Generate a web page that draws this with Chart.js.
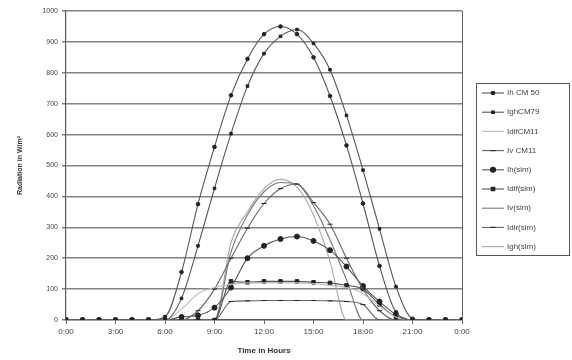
<!DOCTYPE html>
<html lang="en">
    <head>
        <title> Radiation </title>
        <script src="https://cdn.jsdelivr.net/npm/chart.js@4.4.1/dist/chart.umd.min.js"></script>
        <style>
            body { margin: 0; background: #fff; }
        </style>
    </head>

    <body>
        <canvas id="myChart" width="572" height="360"></canvas>

        <script>

            const hours = [0,1,2,3,4,5,6,7,8,9,10,11,12,13,14,15,16,17,18,19,20,21,22,23,24];
            const timeLabels = ['0:00','3:00','6:00','9:00','12:00','15:00','18:00','21:00','0:00'];
            const yTicks = [0,100,200,300,400,500,600,700,800,900,1000];

            const seriesNames = ['Ih CM 50','IghCM79','IdifCM11','Iv CM11','Ih(sim)','Idif(sim)','Iv(sim)','Idir(sim)','Igh(sim)'];

            const ihCM50   = [0,0,0,0,0,0,10,155,375,560,727,845,925,950,925,850,725,565,377,175,25,0,0,0,0];
            const ighCM79  = [0,0,0,0,0,0,0,70,240,426,603,757,862,918,940,895,810,662,485,295,108,5,0,0,0];
            const idifCM11 = [0,0,0,0,0,0,0,35,85,105,115,120,120,120,120,118,112,105,85,45,10,0,0,0,0];
            const ivCM11   = [0,0,0,0,0,0,0,0,30,100,200,297,377,425,440,380,310,200,100,30,0,0,0,0,0];
            const ihSim    = [0,0,0,0,0,0,0,10,15,40,105,200,240,262,270,256,226,173,110,60,18,0,0,0,0];
            const idifSim  = [0,0,0,0,0,0,0,0,0,0,125,122,125,125,125,122,120,112,100,50,10,0,0,0,0];
            const ivSim    = [0,0,0,0,0,0,0,0,0,0,220,340,415,445,440,370,260,130,0,0,0,0,0,0,0];
            const idirSim  = [0,0,0,0,0,0,0,0,0,0,60,62,63,63,63,63,62,60,50,0,0,0,0,0,0];
            const ighSim   = [0,0,0,0,0,0,0,0,0,0,250,350,425,455,430,340,190,0,0,0,0,0,0,0,0];

            const values = [ihCM50, ighCM79, idifCM11, ivCM11, ihSim, idifSim, ivSim, idirSim, ighSim];
            const lineColors = ['#555','#555','#bbb','#666','#555','#555','#777','#666','#aaa'];
            const pointStyles = ['circle','rect','circle','line','circle','rect','circle','line','circle'];
            const pointSizes = [1.8,1.8,0,2.5,2.5,2.5,0,2.5,0];

            const datasets = values.map((vals, i) => ({
                label: seriesNames[i],
                data: hours.map((h, j) => ({ x: h, y: vals[j] })),
                borderColor: lineColors[i],
                backgroundColor: '#222',
                borderWidth: 1.1,
                pointStyle: pointStyles[i],
                pointRadius: pointSizes[i],
                pointBorderColor: '#222',
                pointBorderWidth: 1,
                tension: 0.35,
                cubicInterpolationMode: 'monotone'
            }));

            // legend box on the right, drawn by hand
            const boxLegend = {
                id: 'boxLegend',
                afterDraw (chart) {
                    const ctx = chart.ctx;
                    const area = chart.chartArea;
                    ctx.save();
                    ctx.strokeStyle = '#666';
                    ctx.lineWidth = 1;
                    ctx.beginPath();
                    ctx.moveTo(area.right + 0.5, area.top);
                    ctx.lineTo(area.right + 0.5, area.bottom);
                    ctx.stroke();

                    ctx.strokeStyle = '#555';
                    ctx.strokeRect(476.5, 83.5, 93, 172);
                    ctx.font = '8px "Liberation Sans", Arial, sans-serif';
                    ctx.textBaseline = 'middle';
                    chart.data.datasets.forEach((ds, i) => {
                        const y = 93 + i * 19.2;
                        ctx.strokeStyle = ds.borderColor;
                        ctx.lineWidth = 1.1;
                        ctx.beginPath();
                        ctx.moveTo(482, y);
                        ctx.lineTo(504, y);
                        ctx.stroke();
                        if (ds.pointRadius > 0) {
                            ctx.fillStyle = '#222';
                            ctx.strokeStyle = '#222';
                            Chart.helpers.drawPoint(ctx, { pointStyle: ds.pointStyle, radius: ds.pointRadius, borderWidth: 1 }, 493, y);
                        }
                        ctx.fillStyle = '#444';
                        ctx.fillText(ds.label, 507, y);
                    });
                    ctx.restore();
                }
            };

            new Chart(document.getElementById('myChart'), {
                type: 'line',
                data: { datasets: datasets },
                options: {
                    responsive: false,
                    animation: false,
                    layout: { padding: { top: 11, right: 110, left: 12, bottom: 0 } },
                    plugins: {
                        legend: { display: false },
                        tooltip: { enabled: false }
                    },
                    scales: {
                        x: {
                            type: 'linear',
                            min: 0,
                            max: 24,
                            afterFit: (scale) => { scale.height = 40; },
                            ticks: {
                                stepSize: 3,
                                color: '#444',
                                font: { size: 8, family: '"Liberation Sans", Arial, sans-serif' },
                                callback: (v, idx) => timeLabels[idx]
                            },
                            grid: { drawOnChartArea: false, color: '#666', tickLength: 4 },
                            border: { color: '#555', width: 1.2 },
                            title: {
                                display: true,
                                text: 'Time in Hours',
                                color: '#333',
                                padding: { top: 2 },
                                font: { size: 8, weight: 'bold', family: '"Liberation Sans", Arial, sans-serif' }
                            }
                        },
                        y: {
                            min: 0,
                            max: 1000,
                            afterFit: (scale) => { scale.width = 54; },
                            afterBuildTicks: (scale) => { scale.ticks = yTicks.map(v => ({ value: v })); },
                            ticks: {
                                color: '#444',
                                padding: 4,
                                font: { size: 7, family: '"Liberation Sans", Arial, sans-serif' },
                                callback: (v) => String(v)
                            },
                            grid: { color: '#828282', lineWidth: 1.5, tickLength: 4 },
                            border: { color: '#555', width: 1.2 },
                            title: {
                                display: true,
                                text: 'Radiation in W/m²',
                                color: '#333',
                                font: { size: 7, weight: 'bold', family: '"Liberation Sans", Arial, sans-serif' }
                            }
                        }
                    }
                },
                plugins: [boxLegend]
            });

        </script>
    </body>
</html>
